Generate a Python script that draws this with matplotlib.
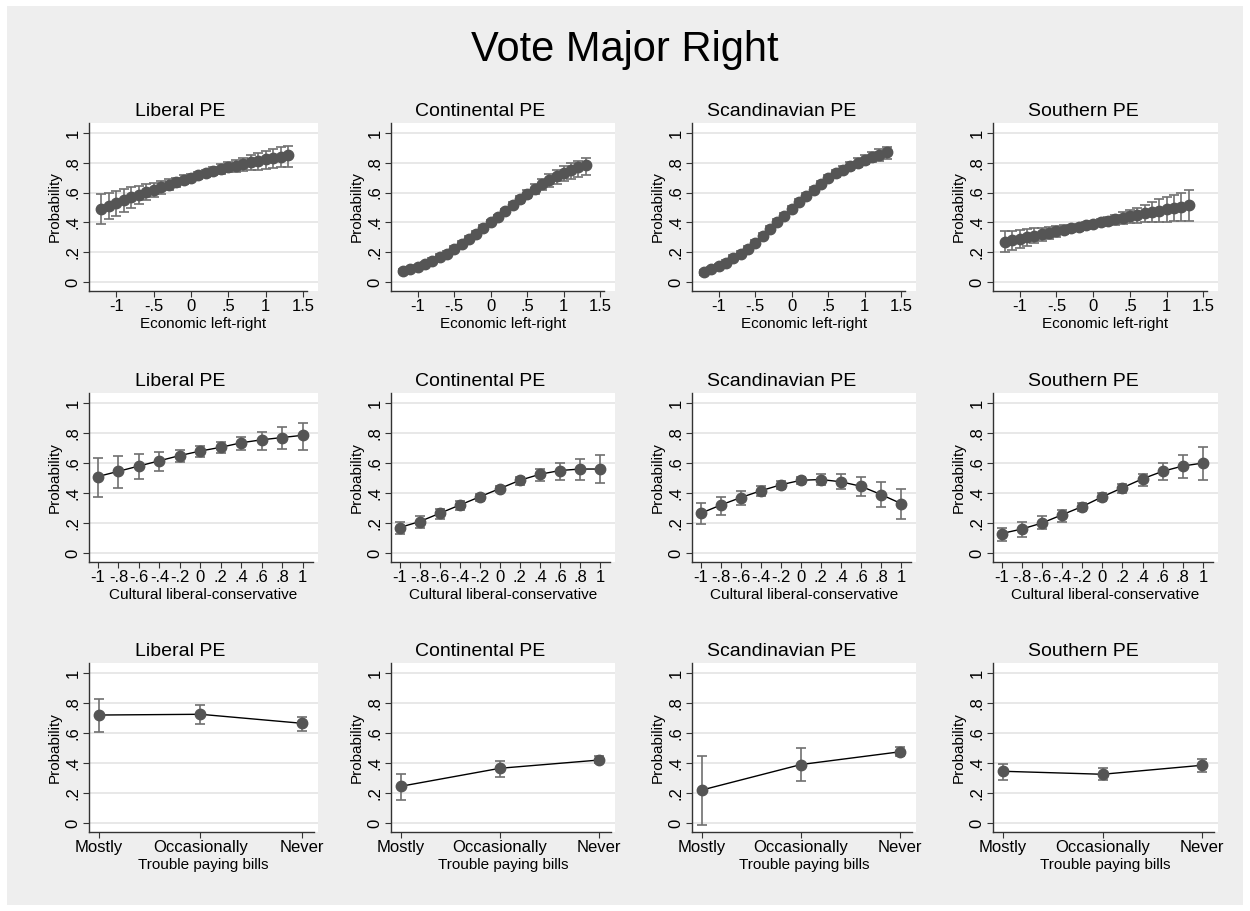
import matplotlib.pyplot as plt
from matplotlib.patches import Rectangle

plt.rcParams['font.family'] = ['Liberation Sans', 'DejaVu Sans']

regimes = ["Liberal PE", "Continental PE", "Scandinavian PE", "Southern PE"]

# ---- row 1: economic left-right
econ_x = [-1.2, -1.1, -1.0, -0.9, -0.8, -0.7, -0.6, -0.5, -0.4, -0.3, -0.2, -0.1, 0.0,
          0.1, 0.2, 0.3, 0.4, 0.5, 0.6, 0.7, 0.8, 0.9, 1.0, 1.1, 1.2, 1.3]

econ_lib = [0.49, 0.51, 0.53, 0.55, 0.57, 0.585, 0.605, 0.62, 0.635, 0.65, 0.67, 0.685, 0.70,
            0.715, 0.73, 0.745, 0.76, 0.77, 0.78, 0.795, 0.805, 0.815, 0.825, 0.835, 0.84, 0.85]
econ_lib_lo = [0.39, 0.42, 0.445, 0.47, 0.50, 0.525, 0.55, 0.57, 0.59, 0.615, 0.635, 0.655, 0.675,
               0.69, 0.705, 0.715, 0.725, 0.735, 0.74, 0.745, 0.75, 0.755, 0.76, 0.765, 0.77, 0.775]
econ_lib_hi = [0.59, 0.60, 0.61, 0.625, 0.635, 0.645, 0.655, 0.665, 0.675, 0.69, 0.70, 0.715, 0.725,
               0.74, 0.755, 0.77, 0.79, 0.805, 0.82, 0.835, 0.85, 0.865, 0.88, 0.89, 0.905, 0.915]

econ_con = [0.075, 0.085, 0.10, 0.12, 0.14, 0.165, 0.19, 0.225, 0.255, 0.29, 0.325, 0.36, 0.40,
            0.435, 0.475, 0.515, 0.555, 0.59, 0.625, 0.655, 0.685, 0.71, 0.73, 0.75, 0.77, 0.785]
econ_con_lo = [0.06, 0.07, 0.085, 0.10, 0.12, 0.145, 0.17, 0.205, 0.235, 0.27, 0.305, 0.345, 0.385,
               0.42, 0.46, 0.495, 0.53, 0.565, 0.59, 0.615, 0.64, 0.66, 0.675, 0.69, 0.705, 0.72]
econ_con_hi = [0.09, 0.10, 0.115, 0.135, 0.16, 0.185, 0.21, 0.245, 0.275, 0.31, 0.345, 0.38, 0.415,
               0.45, 0.49, 0.535, 0.575, 0.615, 0.655, 0.69, 0.725, 0.755, 0.78, 0.80, 0.815, 0.83]

econ_sca = [0.065, 0.085, 0.105, 0.13, 0.16, 0.19, 0.225, 0.265, 0.31, 0.355, 0.40, 0.445, 0.49,
            0.54, 0.58, 0.62, 0.66, 0.70, 0.73, 0.755, 0.78, 0.80, 0.82, 0.84, 0.855, 0.87]
econ_sca_lo = [0.05, 0.07, 0.09, 0.11, 0.14, 0.17, 0.205, 0.245, 0.29, 0.335, 0.38, 0.425, 0.47,
               0.52, 0.56, 0.60, 0.64, 0.675, 0.705, 0.73, 0.755, 0.775, 0.79, 0.805, 0.815, 0.825]
econ_sca_hi = [0.08, 0.10, 0.12, 0.15, 0.18, 0.21, 0.245, 0.285, 0.33, 0.375, 0.42, 0.465, 0.51,
               0.56, 0.60, 0.64, 0.68, 0.72, 0.755, 0.78, 0.805, 0.83, 0.85, 0.87, 0.89, 0.905]

econ_sou = [0.27, 0.28, 0.29, 0.30, 0.31, 0.32, 0.33, 0.34, 0.35, 0.36, 0.37, 0.38, 0.39,
            0.40, 0.41, 0.42, 0.43, 0.44, 0.45, 0.46, 0.47, 0.48, 0.49, 0.50, 0.505, 0.515]
econ_sou_lo = [0.20, 0.215, 0.23, 0.245, 0.26, 0.275, 0.29, 0.305, 0.32, 0.335, 0.345, 0.355, 0.37,
               0.375, 0.38, 0.385, 0.39, 0.395, 0.395, 0.40, 0.40, 0.405, 0.405, 0.41, 0.41, 0.41]
econ_sou_hi = [0.34, 0.345, 0.35, 0.355, 0.36, 0.365, 0.37, 0.375, 0.38, 0.385, 0.39, 0.40, 0.41,
               0.42, 0.435, 0.45, 0.47, 0.485, 0.50, 0.52, 0.54, 0.555, 0.57, 0.585, 0.60, 0.615]

# ---- row 2: cultural liberal-conservative
cult_x = [-1.0, -0.8, -0.6, -0.4, -0.2, 0.0, 0.2, 0.4, 0.6, 0.8, 1.0]
cult_xlabels = ["-1", "-.8", "-.6", "-.4", "-.2", "0", ".2", ".4", ".6", ".8", "1"]

cult_lib = [0.51, 0.545, 0.58, 0.615, 0.65, 0.68, 0.705, 0.735, 0.755, 0.77, 0.785]
cult_lib_lo = [0.375, 0.435, 0.495, 0.55, 0.605, 0.64, 0.665, 0.685, 0.69, 0.695, 0.69]
cult_lib_hi = [0.635, 0.65, 0.66, 0.675, 0.69, 0.715, 0.74, 0.775, 0.81, 0.84, 0.87]

cult_con = [0.17, 0.21, 0.265, 0.32, 0.375, 0.43, 0.485, 0.525, 0.55, 0.56, 0.56]
cult_con_lo = [0.125, 0.165, 0.225, 0.285, 0.35, 0.41, 0.455, 0.48, 0.49, 0.485, 0.465]
cult_con_hi = [0.205, 0.245, 0.295, 0.345, 0.395, 0.445, 0.51, 0.56, 0.60, 0.63, 0.655]

cult_sca = [0.265, 0.32, 0.37, 0.415, 0.455, 0.485, 0.49, 0.475, 0.445, 0.39, 0.33]
cult_sca_lo = [0.195, 0.255, 0.32, 0.38, 0.425, 0.46, 0.455, 0.425, 0.38, 0.305, 0.225]
cult_sca_hi = [0.335, 0.375, 0.415, 0.45, 0.48, 0.505, 0.525, 0.525, 0.505, 0.475, 0.43]

cult_sou = [0.13, 0.16, 0.20, 0.255, 0.31, 0.375, 0.435, 0.495, 0.545, 0.58, 0.60]
cult_sou_lo = [0.08, 0.11, 0.16, 0.21, 0.28, 0.345, 0.40, 0.45, 0.485, 0.50, 0.49]
cult_sou_hi = [0.17, 0.205, 0.245, 0.29, 0.335, 0.40, 0.46, 0.53, 0.60, 0.655, 0.705]

# ---- row 3: trouble paying bills
bills_x = [1, 2, 3]
bills_labels = ["Mostly", "Occasionally", "Never"]

bills_lib = [0.72, 0.725, 0.665]
bills_lib_lo = [0.605, 0.66, 0.615]
bills_lib_hi = [0.825, 0.79, 0.71]

bills_con = [0.245, 0.365, 0.42]
bills_con_lo = [0.155, 0.31, 0.40]
bills_con_hi = [0.33, 0.415, 0.445]

bills_sca = [0.22, 0.39, 0.475]
bills_sca_lo = [-0.01, 0.28, 0.445]
bills_sca_hi = [0.445, 0.50, 0.505]

bills_sou = [0.345, 0.325, 0.385]
bills_sou_lo = [0.29, 0.285, 0.34]
bills_sou_hi = [0.395, 0.365, 0.43]

rows = [
    (econ_x, [(econ_lib, econ_lib_lo, econ_lib_hi), (econ_con, econ_con_lo, econ_con_hi),
              (econ_sca, econ_sca_lo, econ_sca_hi), (econ_sou, econ_sou_lo, econ_sou_hi)]),
    (cult_x, [(cult_lib, cult_lib_lo, cult_lib_hi), (cult_con, cult_con_lo, cult_con_hi),
              (cult_sca, cult_sca_lo, cult_sca_hi), (cult_sou, cult_sou_lo, cult_sou_hi)]),
    (bills_x, [(bills_lib, bills_lib_lo, bills_lib_hi), (bills_con, bills_con_lo, bills_con_hi),
               (bills_sca, bills_sca_lo, bills_sca_hi), (bills_sou, bills_sou_lo, bills_sou_hi)]),
]

W, H = 1250, 911
fig = plt.figure(figsize=(W / 100, H / 100), dpi=100, facecolor="white")
fig.patches.append(Rectangle((7 / W, 6 / H), 1236 / W, 899 / H, transform=fig.transFigure,
                             facecolor="#eeeeee", edgecolor="none", zorder=-10))
fig.text(0.5, 1 - 50 / H, "Vote Major Right", ha="center", va="center", fontsize=30)

col_left = [89, 391, 692, 993]
col_right = [318, 615, 916, 1218]
row_top = [123, 393, 663]
row_bottom = [291, 562, 832]

yticks = [0, 0.2, 0.4, 0.6, 0.8, 1.0]
ylabels = ["0", ".2", ".4", ".6", ".8", "1"]

for r, (xs, panels) in enumerate(rows):
    for c, (mid, lo, hi) in enumerate(panels):
        l, rr = col_left[c], col_right[c]
        t, b = row_top[r], row_bottom[r]
        ax = fig.add_axes([l / W, 1 - b / H, (rr - l) / W, (b - t) / H])
        ax.set_facecolor("white")
        yerr = [[m - a for m, a in zip(mid, lo)], [z - m for m, z in zip(mid, hi)]]
        ax.plot(xs, mid, color="black", lw=1.0, zorder=3)
        ax.errorbar(xs, mid, yerr=yerr, fmt="none", ecolor="#707070", elinewidth=1.2,
                    capsize=3.5, capthick=1.2, zorder=2)
        ax.plot(xs, mid, "o", color="#555555", ms=7.5, zorder=4)

        ax.set_ylim(-0.06, 1.067)
        ax.set_yticks(yticks)
        ax.set_yticklabels(ylabels, rotation=90, va="center")
        ax.grid(axis="y", color="#e6e6e6", lw=1.3)
        ax.set_axisbelow(True)

        if r == 0:
            ax.set_xlim(-1.365, 1.70)
            ax.set_xticks([-1, -0.5, 0, 0.5, 1, 1.5])
            ax.set_xticklabels(["-1", "-.5", "0", ".5", "1", "1.5"])
            ax.spines["bottom"].set_bounds(-1.365, 1.55)
            ax.set_xlabel("Economic left-right", fontsize=11, labelpad=2)
        elif r == 1:
            ax.set_xlim(-1.088, 1.15)
            ax.set_xticks(cult_x)
            ax.set_xticklabels(cult_xlabels)
            ax.spines["bottom"].set_bounds(-1.088, 1.10)
            ax.set_xlabel("Cultural liberal-conservative", fontsize=11, labelpad=2)
        else:
            ax.set_xlim(0.9, 3.16)
            ax.set_xticks(bills_x)
            ax.set_xticklabels(bills_labels)
            ax.spines["bottom"].set_bounds(0.9, 3.12)
            ax.set_xlabel("Trouble paying bills", fontsize=11, labelpad=2)

        ax.set_ylabel("Probability", fontsize=11, labelpad=3)
        ax.set_title(regimes[c], fontsize=14, pad=5, x=0.4)
        for s in ["top", "right"]:
            ax.spines[s].set_visible(False)
        for s in ["left", "bottom"]:
            ax.spines[s].set_color("#333333")
            ax.spines[s].set_linewidth(1.0)
        ax.tick_params(labelsize=12, length=4, color="#333333", pad=2)

fig.savefig("out.png", dpi=100, facecolor=fig.get_facecolor())
